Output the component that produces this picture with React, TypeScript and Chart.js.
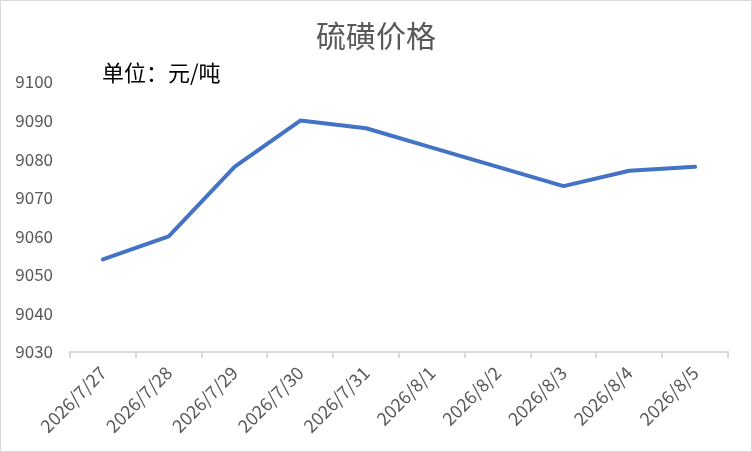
import { useEffect, useRef } from "react";
import { Chart, registerables } from "chart.js";

Chart.register(...registerables);

const categories = [
  "2026/7/27",
  "2026/7/28",
  "2026/7/29",
  "2026/7/30",
  "2026/7/31",
  "2026/8/1",
  "2026/8/2",
  "2026/8/3",
  "2026/8/4",
  "2026/8/5",
];
const prices = [9054, 9060, 9078, 9090, 9088, 9083, 9078, 9073, 9077, 9078];
const yMin = 9030;
const yMax = 9100;
const yStep = 10;
const titleText = "硫磺价格";
const unitText = "单位：元/吨";

const FONT = "'Noto Sans CJK SC', 'Noto Sans', sans-serif";

export default function App() {
  const ref = useRef<HTMLCanvasElement | null>(null);

  useEffect(() => {
    if (!ref.current) return;
    const extras = {
      id: "extras",
      afterDraw(chart: any) {
        const { ctx, chartArea } = chart;
        ctx.save();
        ctx.fillStyle = "#595959";
        ctx.font = `30px ${FONT}`;
        ctx.textBaseline = "middle";
        ctx.textAlign = "center";
        ctx.fillText(titleText, chart.width / 2, 36);
        ctx.font = `22px ${FONT}`;
        ctx.fillStyle = "#000000";
        ctx.textAlign = "left";
        ctx.fillText(unitText, chartArea.left + 32, chartArea.top - 9);
        ctx.strokeStyle = "#d9d9d9";
        ctx.lineWidth = 1;
        ctx.strokeRect(0.5, 0.5, chart.width - 1, chart.height - 1);
        ctx.restore();
      },
    };
    const chart = new Chart(ref.current, {
      type: "line",
      data: {
        labels: categories,
        datasets: [
          {
            data: prices,
            borderColor: "#4472C4",
            borderWidth: 4,
            pointRadius: 0,
            tension: 0,
            borderCapStyle: "round",
            borderJoinStyle: "round",
          },
        ],
      },
      options: {
        animation: false,
        responsive: true,
        maintainAspectRatio: false,
        layout: { padding: { left: 0, right: 24, top: 82, bottom: 0 } },
        plugins: {
          legend: { display: false },
          tooltip: { enabled: false },
          title: { display: false },
        },
        scales: {
          x: {
            type: "category",
            offset: true,
            grid: {
              offset: true,
              drawOnChartArea: false,
              drawTicks: true,
              tickLength: 6,
              color: "#d9d9d9",
              lineWidth: 2,
            },
            border: { display: true, color: "#d9d9d9", width: 2 },
            ticks: {
              color: "#595959",
              font: { family: FONT, size: 18 },
              maxRotation: 45,
              minRotation: 45,
              autoSkip: false,
              padding: 4,
            },
            afterFit(scale: any) {
              scale.height = 100;
            },
          },
          y: {
            min: yMin,
            max: yMax,
            grid: { display: false, drawTicks: false },
            border: { display: false },
            ticks: {
              stepSize: yStep,
              color: "#595959",
              font: { family: FONT, size: 17 },
              padding: 17,
              callback: (v: any) => String(v),
            },
            afterFit(scale: any) {
              scale.width = 70;
            },
          },
        },
      },
      plugins: [extras],
    });
    return () => chart.destroy();
  }, []);

  return (
    <div style={{ position: "absolute", left: 0, top: 0, width: 752, height: 452 }}>
      <canvas ref={ref} />
    </div>
  );
}
